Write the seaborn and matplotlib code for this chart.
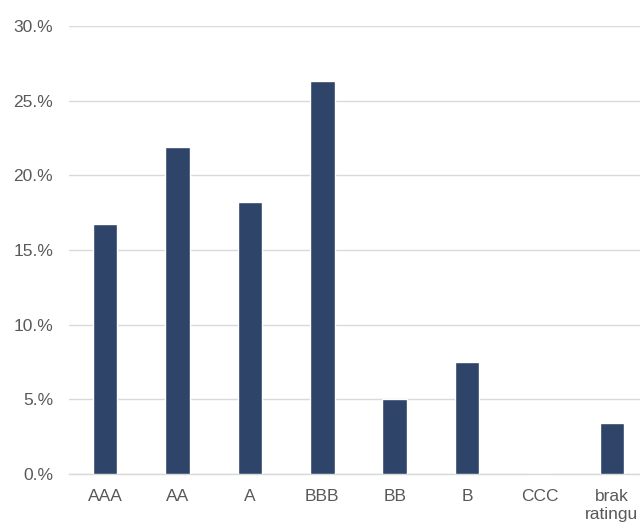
import matplotlib
matplotlib.use("Agg")
import matplotlib.pyplot as plt
import seaborn as sns
import pandas as pd
from matplotlib.ticker import FuncFormatter

categories = ["AAA", "AA", "A", "BBB", "BB", "B", "CCC", "brak\nratingu"]
values = [16.75, 21.9, 18.2, 26.3, 5.05, 7.5, 0.0, 3.4]
yticks = [0, 5, 10, 15, 20, 25, 30]

sns.set_theme(style="white")
plt.rcParams["font.family"] = ["Liberation Sans", "DejaVu Sans"]

df = pd.DataFrame({"cat": categories, "val": values})

fig = plt.figure(figsize=(6.4, 5.25), dpi=100)
ax = fig.add_axes([69/640, 51/525, (648-69)/640, 448/525])
sns.barplot(data=df, x="cat", y="val", color="#2E4468", width=0.34,
            saturation=1, ax=ax, zorder=3)

ax.set_ylim(0, 30)
ax.set_yticks(yticks)
ax.yaxis.set_major_formatter(FuncFormatter(lambda v, p: f"{int(v)}.%"))
ax.grid(axis="y", color="#D9D9D9", linewidth=1, zorder=0)
ax.grid(axis="x", visible=False)
for s in ["top", "right", "left"]:
    ax.spines[s].set_visible(False)
ax.spines["bottom"].set_color("#D9D9D9")
ax.spines["bottom"].set_linewidth(1)
ax.tick_params(axis="both", length=0, labelsize=12.5, colors="#595959")
ax.tick_params(axis="x", pad=11)
ax.tick_params(axis="y", pad=11.5)
ax.set_xlabel("")
ax.set_ylabel("")

fig.savefig("out.png", dpi=100)
